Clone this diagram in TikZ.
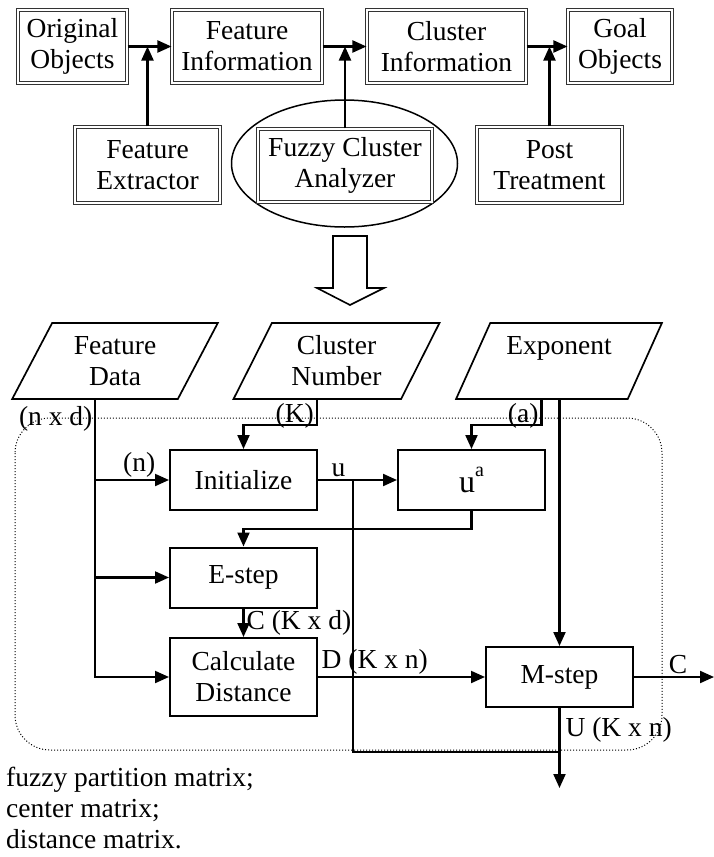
\documentclass[tikz,border=0pt]{standalone}
\usepackage{fontspec}
\setmainfont{Liberation Serif}
\usetikzlibrary{arrows.meta,shapes.geometric,shadows,calc}

\begin{document}
\begin{tikzpicture}[x=1pt,y=-1pt,
	every node/.style = {font=\fontsize{27.5}{31}\selectfont},
	objbox/.style = {draw=black!80, double=white, double distance=1.4pt, line width=1.1pt, fill=white, align=center, inner sep=0pt,
		drop shadow={shadow xshift=1.8pt, shadow yshift=-1.8pt, fill=black, opacity=1}},
	stepbox/.style = {draw, line width=2pt, align=center, inner sep=0pt, minimum width=147pt, minimum height=60pt},
	databox/.style = {draw, line width=1.7pt, trapezium, trapezium left angle=62, trapezium right angle=118,
		trapezium stretches=true, align=center, inner sep=0pt, minimum width=206pt, minimum height=76pt},
	flow/.style = {line width=2.1pt, -{Triangle[length=14pt,width=12pt]}},
	link/.style = {line width=1.5pt},
	lbl/.style = {inner sep=2pt}]

	\useasboundingbox (0,0) rectangle (714,857);

	\node[objbox, minimum width=109pt, minimum height=73pt] (orig) at (72.5,46.5) {Original\\Objects};
	\node[objbox, minimum width=150pt, minimum height=73pt] (finfo) at (247,46.5) {Feature\\Information};
	\node[objbox, minimum width=159pt, minimum height=73pt] (cinfo) at (446.5,46.5) {Cluster\\Information};
	\node[objbox, minimum width=104pt, minimum height=73pt] (goal) at (620,46.5) {Goal\\Objects};

	\node[draw, ellipse, line width=1.5pt, minimum width=226pt, minimum height=127pt] (ring) at (344.5,163.5) {};
	\node[objbox, minimum width=145pt, minimum height=76pt] (fext) at (147.5,165) {Feature\\Extractor};
	\node[objbox, minimum width=174pt, minimum height=73pt] (fca) at (345,165.5) {Fuzzy Cluster\\Analyzer};
	\node[objbox, minimum width=145pt, minimum height=76pt] (post) at (549.5,165) {Post\\Treatment};

	\draw[flow] (orig) -- (finfo);
	\draw[flow] (finfo) -- (cinfo);
	\draw[flow] (cinfo) -- (goal);
	\draw[flow] (fext) -- (fext |- orig.east);
	\draw[flow] (fca) -- (fca |- finfo.east);
	\draw[flow] (post) -- (post |- cinfo.east);

	% hollow arrow
	\draw[line width=1.6pt] (333,236) -- (367,236) -- (367,288) -- (384,288) -- (350,305) -- (317,288) -- (333,288) -- cycle;

	\draw[dotted, line width=1pt, rounded corners=35pt] (15,418) rectangle (662,750);

	\node[databox] (fdata) at (115,361) {Feature\\Data};
	\node[databox] (cnum) at (336.5,361) {Cluster\\Number};
	\node[databox] (expo) at (559,361) {Exponent\\\vphantom{Data}};

	\node[stepbox] (init) at (243.5,480) {Initialize};
	\node[stepbox] (upow) at (471.5,480) {{\fontsize{32}{32}\selectfont u}\raisebox{16pt}{\fontsize{20}{20}\selectfont a}};
	\node[stepbox] (estep) at (243.5,577.5) {E-step};
	\node[stepbox, minimum height=78pt] (cdist) at (243.5,677) {Calculate\\Distance};
	\node[stepbox] (mstep) at (559.5,677) {M-step};

	\coordinate (fdout) at ($(fdata.bottom left corner)!0.5!(fdata.bottom right corner)$);
	\coordinate (cnout) at ($(cnum.bottom left corner)!0.5!(cnum.bottom right corner)$);
	\coordinate (exout) at ($(expo.bottom left corner)!0.5!(expo.bottom right corner)$);

	\draw[flow] (fdout) |- (cdist.west);
	\node[left, lbl] (ndlbl) at ([yshift=-19pt]fdout) {(n x d)};
	\draw[flow] (fdout |- init.west) -- node[pos=0.6, above, lbl]{(n)} (init.west);
	\draw[flow] (fdout |- estep.west) -- (estep.west);

	\draw[flow] (cnout) -- node[left, pos=0.65, lbl]{(K)} ++(0,25) -| (init.north);
	\draw[flow] (exout) -- node[left, pos=0.65, lbl]{(a)} ++(0,25) -| (upow.north);
	\draw[flow] (mstep.north |- exout) -- (mstep.north);

	\draw[flow] (init) -- node[pos=0.26, above, lbl]{u} (upow);
	\coordinate (usplit) at ($(init.east)!0.44!(upow.west)$);
	\coordinate (ujoin) at ([yshift=-44pt]mstep.south);
	\draw[link] (usplit) |- (ujoin);
	\draw[flow] (mstep.south) -- node[pos=0.27, right, lbl, xshift=3pt]{U (K x n)} ++(0,80);

	\draw[flow] (upow.south) -- ++(0,18) -| (estep.north);
	\draw[flow] (estep) -- node[right, lbl]{C (K x d)} (cdist);
	\draw[flow] (cdist) -- node[pos=0.34, above, lbl]{D (K x n)} (mstep);
	\draw[flow] (mstep.east) -- node[pos=0.55, above, lbl]{C} ++(80,0);

	\node[align=left, anchor=west, inner sep=0pt] (legend) at (6,808) {fuzzy partition matrix;\\center matrix;\\distance matrix.};

\end{tikzpicture}
\end{document}
